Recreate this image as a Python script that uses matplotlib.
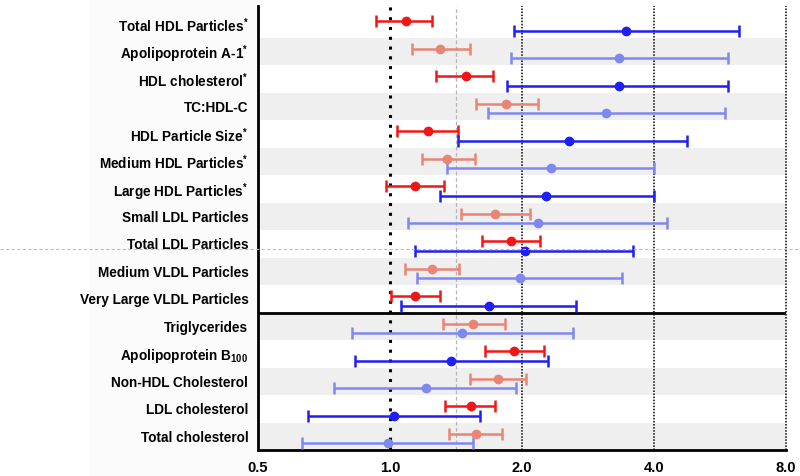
import numpy as np
import matplotlib
matplotlib.use("Agg")
import matplotlib.pyplot as plt
from matplotlib.lines import Line2D
from matplotlib.patches import Rectangle

plt.rcParams["font.family"] = ["Liberation Sans", "DejaVu Sans"]
plt.rcParams["mathtext.fontset"] = "custom"
plt.rcParams["mathtext.rm"] = "Liberation Sans"
plt.rcParams["mathtext.bf"] = "Liberation Sans:bold"

# --- data ---
labels = [
    r"Total HDL Particles$^{\mathbf{*}}$",
    r"Apolipoprotein A-1$^{\mathbf{*}}$",
    r"HDL cholesterol$^{\mathbf{*}}$",
    "TC:HDL-C",
    r"HDL Particle Size$^{\mathbf{*}}$",
    r"Medium HDL Particles$^{\mathbf{*}}$",
    r"Large HDL Particles$^{\mathbf{*}}$",
    "Small LDL Particles",
    "Total LDL Particles",
    "Medium VLDL Particles",
    "Very Large VLDL Particles",
    "Triglycerides",
    r"Apolipoprotein B$_{\mathbf{100}}$",
    "Non-HDL Cholesterol",
    "LDL cholesterol",
    "Total cholesterol",
]

red_mid = [1.09, 1.30, 1.49, 1.84, 1.22, 1.35, 1.14, 1.74, 1.89, 1.25, 1.14, 1.55, 1.92, 1.76, 1.53, 1.57]
red_lo = [0.93, 1.12, 1.27, 1.57, 1.04, 1.18, 0.98, 1.45, 1.62, 1.08, 1.005, 1.32, 1.65, 1.52, 1.335, 1.365]
red_hi = [1.25, 1.52, 1.72, 2.17, 1.43, 1.56, 1.33, 2.09, 2.20, 1.44, 1.30, 1.83, 2.245, 2.04, 1.74, 1.80]

blue_mid = [3.45, 3.33, 3.33, 3.11, 2.56, 2.33, 2.27, 2.17, 2.03, 1.98, 1.68, 1.46, 1.38, 1.21, 1.02, 0.99]
blue_lo = [1.92, 1.89, 1.85, 1.67, 1.43, 1.35, 1.30, 1.10, 1.14, 1.15, 1.06, 0.82, 0.83, 0.746, 0.65, 0.63]
blue_hi = [6.25, 5.89, 5.89, 5.81, 4.75, 4.0, 4.0, 4.28, 3.59, 3.39, 2.66, 2.62, 2.29, 1.94, 1.60, 1.55]

xticks = [0.5, 1.0, 2.0, 4.0, 8.0]

RED_DARK = "#F21616"
RED_LIGHT = "#EA8575"
BLUE_DARK = "#1E1EF5"
BLUE_LIGHT = "#7F88F0"

fig = plt.figure(figsize=(8, 4.76), dpi=100)
# faint panel behind the labels
fig.patches.append(Rectangle((90 / 800, 0), (258 - 90) / 800, 1, transform=fig.transFigure,
                             facecolor="#FBFBFB", edgecolor="none", zorder=-10))
ax = fig.add_axes([258 / 800, 1 - 450 / 476, (786 - 258) / 800, (450 - 6) / 476])
ax.set_facecolor("none")

n = len(labels)
ypos = np.arange(n)

for i in ypos:
    if i % 2 == 1:
        ax.axhspan(i - 0.5, i + 0.5, color="#EFEFEF", zorder=0, lw=0)

ax.axvline(1.0, color="black", ls=(0, (1, 2.2)), lw=2.2, zorder=1)
ax.axvline(np.sqrt(2), color="#B5B5B5", ls=(0, (3, 2)), lw=0.9, zorder=1)
for v in [2.0, 4.0, 8.0]:
    ax.axvline(v, color="black", ls=(0, (1, 1)), lw=1.1, zorder=1, clip_on=False)

ax.axhline(10.5, color="black", lw=2, zorder=2)

for i in ypos:
    rc = RED_LIGHT if i % 2 else RED_DARK
    bc = BLUE_LIGHT if i % 2 else BLUE_DARK
    ax.errorbar(red_mid[i], i - 0.1,
                xerr=[[red_mid[i] - red_lo[i]], [red_hi[i] - red_mid[i]]],
                fmt="o", color=rc, ms=6, lw=1.8, capsize=4, capthick=1.8, zorder=3)
    ax.errorbar(blue_mid[i], i + 0.25,
                xerr=[[blue_mid[i] - blue_lo[i]], [blue_hi[i] - blue_mid[i]]],
                fmt="o", color=bc, ms=6, lw=1.8, capsize=4, capthick=1.8, zorder=3)

ax.set_xscale("log", base=2)
ax.set_xlim(0.5, 8.0)
ax.set_ylim(n - 0.5, -0.65)
ax.set_xticks(xticks)
ax.set_xticklabels([f"{t:.1f}" for t in xticks], fontsize=10.5, fontweight="bold")
ax.minorticks_off()
ax.set_yticks(ypos)
ax.set_yticklabels(labels, fontsize=9.8, fontweight="bold")
ax.tick_params(axis="both", length=0)
ax.tick_params(axis="y", pad=7)
ax.tick_params(axis="x", pad=8)

for s in ["top", "right"]:
    ax.spines[s].set_visible(False)
ax.spines["left"].set_linewidth(2)
ax.spines["bottom"].set_linewidth(2)

# light dashed line across the whole figure
fig.add_artist(Line2D([0, 1], [1 - 249 / 476] * 2, transform=fig.transFigure,
                      color="#BDBDBD", ls=(0, (3, 2)), lw=0.8, zorder=5))

fig.savefig("out.png", dpi=100)
